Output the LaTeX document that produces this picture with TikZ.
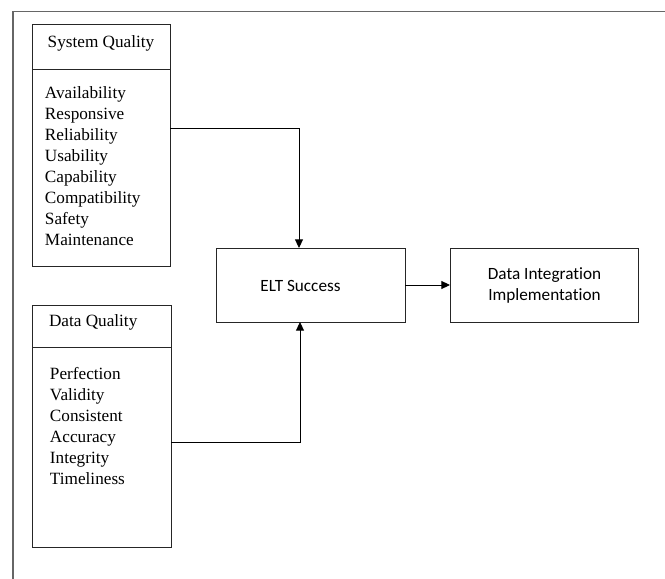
\documentclass[tikz,border=0pt]{standalone}
\usepackage{fontspec}
\setmainfont{Liberation Serif}
\newfontfamily\calfont[Ligatures=NoCommon]{Carlito}
\usetikzlibrary{arrows.meta}
\begin{document}
\begin{tikzpicture}[x=0.75pt,y=-0.75pt,
  box/.style={draw=black!85, line width=0.7pt, inner sep=0pt, outer sep=0pt},
  txt/.style={inner sep=0pt, outer sep=0pt, font=\fontsize{12.9}{15.75}\selectfont},
  caltxt/.style={inner sep=0pt, outer sep=0pt, font=\calfont\fontsize{12.9}{15.4}\selectfont},
  arr/.style={draw=black, line width=0.7pt, -{Triangle[length=6.5pt,width=6pt]}},
  frame/.style={draw=black!60, line width=1pt}]
\useasboundingbox (0,0) rectangle (665,579);
% outer frame
\coordinate (fb) at (13,579);
\coordinate (ftl) at (13,11.5);
\coordinate (ftr) at (665,11.5);
\draw[frame] (fb) -- (ftl) -- (ftr);
% System Quality
\node[box, minimum width=103.5pt, minimum height=181.5pt] (sq) at (101,145) {};
\coordinate (d1) at (0,69);
\draw[box] (sq.west |- d1) -- (sq.east |- d1);
\node[txt, anchor=north] (sqhead) at (101,36) {System Quality};
\node[txt, anchor=north west, align=left] (sqlist) at (45,86.5)
  {Availability\\Responsive\\Reliability\\Usability\\Capability\\Compatibility\\Safety\\Maintenance};
% Data Quality
\node[box, minimum width=104.25pt, minimum height=181.5pt] (dq) at (101.5,426) {};
\coordinate (d2) at (0,347);
\draw[box] (dq.west |- d2) -- (dq.east |- d2);
\node[txt, anchor=north west] (dqhead) at (49,315) {Data Quality};
\node[txt, anchor=north west, align=left] (dqlist) at (50,367)
  {Perfection\\Validity\\Consistent\\Accuracy\\Integrity\\Timeliness};
% ELT Success
\node[box, minimum width=141.75pt, minimum height=55.5pt] (elt) at (310.5,285) {};
\node[caltxt] (elttext) at (300.5,285.5) {ELT Success};
% Data Integration Implementation
\node[box, minimum width=141pt, minimum height=55.5pt] (di) at (544,285) {};
\node[caltxt, align=center] (ditext) at (544.5,285.5) {Data Integration\\Implementation};
% connectors
\coordinate (c1) at (0,128);
\coordinate (x1) at (299,0);
\coordinate (c3) at (0,442);
\coordinate (x3) at (300,0);
\draw[arr] (sq.east |- c1) -| (elt.north -| x1);
\draw[arr] (dq.east |- c3) -| (elt.south -| x3);
\draw[arr] (elt) -- (di);
\end{tikzpicture}
\end{document}
